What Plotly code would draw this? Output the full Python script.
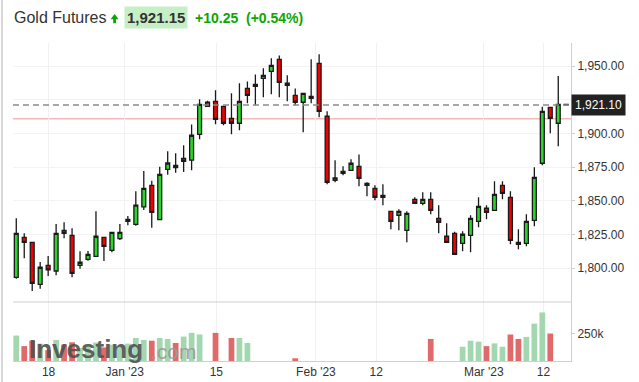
import plotly.graph_objects as go

# ---------------- data ----------------
idx = list(range(70))
opens = [1793.1, 1822.8, 1819.1, 1787.9, 1802.0, 1797.8, 1828.0, 1824.3, 1802.0, 1806.5,
         1808.7, 1822.8, 1813.2, 1821.8, 1834.7, 1832.5, 1845.5, 1861.4, 1835.9, 1873.3,
         1874.5, 1881.5, 1880.1, 1899.3, 1923.1, 1923.8, 1920.1, 1911.2, 1907.5, 1933.4,
         1934.9, 1940.9, 1946.1, 1955.0, 1937.2, 1928.2, 1923.1, 1926.0, 1952.0, 1912.7,
         1865.1, 1870.3, 1872.6, 1875.5, 1861.4, 1859.2, 1854.0, 1842.1, 1839.2, 1828.0,
         1851.0, 1848.1, 1851.0, 1836.9, 1823.6, 1825.8, 1818.4, 1824.3, 1834.7, 1844.4,
         1842.9, 1861.4, 1852.5, 1817.6, 1818.4, 1835.4, 1877.8, 1919.3, 1907.5, 1921.6]
highs = [1836.9, 1825.8, 1819.5, 1804.5, 1808.9, 1832.7, 1834.0, 1829.5, 1812.4, 1812.6,
         1842.1, 1822.8, 1826.8, 1832.7, 1838.6, 1857.0, 1872.0, 1864.8, 1875.2, 1886.7,
         1885.2, 1891.1, 1906.6, 1925.3, 1924.2, 1932.0, 1920.1, 1929.7, 1937.2, 1938.6,
         1943.8, 1948.3, 1955.7, 1957.9, 1943.1, 1933.4, 1929.7, 1955.0, 1958.7, 1916.4,
         1880.0, 1875.5, 1880.7, 1884.4, 1863.7, 1861.4, 1862.2, 1842.1, 1843.6, 1842.1,
         1852.5, 1856.2, 1856.2, 1846.6, 1833.2, 1827.0, 1827.3, 1839.2, 1852.5, 1846.6,
         1864.4, 1864.4, 1857.0, 1828.8, 1839.9, 1874.8, 1919.8, 1919.3, 1942.6, 1921.8]
lows = [1792.1, 1807.2, 1783.0, 1784.7, 1794.1, 1794.6, 1822.1, 1793.1, 1799.5, 1805.5,
        1808.5, 1805.2, 1811.7, 1820.8, 1831.7, 1831.4, 1843.1, 1830.0, 1835.5, 1869.3,
        1870.8, 1871.3, 1872.6, 1895.6, 1920.0, 1906.7, 1906.0, 1899.3, 1902.3, 1922.3,
        1920.8, 1926.8, 1929.0, 1926.8, 1923.8, 1920.8, 1900.8, 1922.3, 1911.9, 1862.2,
        1863.7, 1868.9, 1872.6, 1860.7, 1853.3, 1850.3, 1846.6, 1828.8, 1828.0, 1819.1,
        1848.1, 1846.6, 1839.9, 1825.8, 1819.1, 1810.2, 1812.4, 1811.7, 1830.3, 1836.2,
        1842.9, 1851.0, 1817.6, 1813.9, 1816.1, 1831.0, 1876.3, 1900.0, 1890.4, 1921.0]
closes = [1825.8, 1819.1, 1788.7, 1800.6, 1798.6, 1825.8, 1825.8, 1796.1, 1804.3, 1810.2,
          1823.6, 1816.1, 1826.5, 1826.5, 1836.2, 1846.8, 1859.2, 1841.4, 1869.6, 1878.0,
          1876.3, 1879.2, 1898.6, 1921.6, 1920.1, 1910.4, 1907.5, 1907.5, 1923.8, 1928.2,
          1936.4, 1943.1, 1950.5, 1937.9, 1935.7, 1923.1, 1929.7, 1927.5, 1916.4, 1863.7,
          1866.9, 1871.8, 1877.8, 1866.6, 1862.9, 1852.5, 1852.5, 1834.7, 1842.1, 1840.6,
          1848.1, 1851.0, 1842.9, 1834.0, 1819.1, 1810.2, 1825.1, 1836.9, 1845.8, 1841.4,
          1854.7, 1855.5, 1820.6, 1819.1, 1834.7, 1867.4, 1916.4, 1911.2, 1921.6, 1921.1]
# volume in thousands (0 = no bar shown)
volumes_k = [234, 137, 187, 160, 100, 194, 150, 172, 120, 140,
             170, 125, 150, 130, 160, 212, 194, 187, 212, 203,
             166, 225, 259, 244, 0, 259, 0, 212, 212, 166,
             0, 0, 0, 0, 0, 25, 0, 0, 0, 0,
             0, 0, 0, 0, 0, 0, 0, 0, 0, 0,
             0, 0, 203, 0, 0, 0, 131, 187, 178, 137,
             162, 131, 244, 203, 222, 344, 447, 253, 0, 0]
vol_up = [True, False, False, True, False, True, False, False, True, True,
          True, False, True, True, True, True, True, False, True, True,
          False, True, True, True, False, False, False, False, True, True,
          True, True, True, False, False, False, True, False, False, False,
          True, True, True, False, False, False, False, False, True, False,
          True, True, False, False, False, False, True, True, True, False,
          True, True, False, False, True, True, True, False, True, False]

tick_pos = [4.05, 13.6, 25.1, 37.6, 45.15, 58.65, 66.15]
tick_text = ["18", "Jan '23", "15", "Feb '23", "12", "Mar '23", "12"]
price_ticks = [1800, 1825, 1850, 1875, 1900, 1925, 1950]
price_tick_text = ["1,800.00", "1,825.00", "1,850.00", "1,875.00", "1,900.00", "", "1,950.00"]
last_price = 1921.10
prev_close = 1910.90
header_name = "Gold Futures"
header_price = "1,921.15"
header_change = "+10.25  (+0.54%)"

# ---------------- layout geometry ----------------
W, H = 639, 382
L, R, T, B = 13, 68, 43, 21
PW, PH = W - L - R, H - T - B
vol_frac = 59 / PH

def px(xp):
    return (xp - L) / PW

def py(yp):
    return (H - B - yp) / PH

FONT = "Liberation Sans, Arial, sans-serif"

fig = go.Figure()

vol_vals = [v * 1000 if v > 0 else None for v in volumes_k]
vol_cols = ["#a2d7b0" if u else "#e06a6a" for u in vol_up]
fig.add_trace(go.Bar(x=idx, y=vol_vals, marker_color=vol_cols, marker_line_width=0,
                     width=0.72, yaxis="y2", showlegend=False, hoverinfo="skip"))

fig.add_trace(go.Candlestick(
    x=idx, open=opens, high=highs, low=lows, close=closes,
    increasing=dict(line=dict(color="#1a1a1a", width=1.3), fillcolor="#2ad62a"),
    decreasing=dict(line=dict(color="#1a1a1a", width=1.3), fillcolor="#f20000"),
    whiskerwidth=0, showlegend=False, yaxis="y"))

# reference lines
fig.add_shape(type="line", xref="paper", x0=0, x1=1, yref="y", y0=prev_close, y1=prev_close,
              line=dict(color="#f6b8b8", width=1.5), layer="below")
fig.add_shape(type="line", xref="paper", x0=0, x1=1, yref="y", y0=last_price, y1=last_price,
              line=dict(color="#8a8a8a", width=1.5, dash="6px,4px"), layer="above")
# separator between panels
fig.add_shape(type="line", xref="paper", x0=0, x1=1, yref="paper", y0=vol_frac, y1=vol_frac,
              line=dict(color="#cfcfcf", width=1))
# container left border
fig.add_shape(type="line", xref="paper", x0=px(2), x1=px(2), yref="paper", y0=py(0), y1=py(H),
              line=dict(color="#cccccc", width=1.5))

# up-arrow icon in header (decoration)
arrow_pts = [(114.6, 14.0), (118.6, 19.3), (116.0, 19.3), (116.0, 23.3),
             (113.2, 23.3), (113.2, 19.3), (110.6, 19.3)]
arrow_path = "M " + " L ".join(f"{px(a):.5f},{py(b):.5f}" for a, b in arrow_pts) + " Z"
fig.add_shape(type="path", xref="paper", yref="paper", path=arrow_path,
              fillcolor="#0ea600", line=dict(width=0))

annotations = [
    dict(text=header_name, x=px(12), y=py(18), xref="paper", yref="paper", xanchor="left",
         yanchor="middle", showarrow=False, font=dict(family=FONT, size=16, color="#333333")),
    dict(text="<b>" + header_price + "</b>", x=px(124), y=py(18), xref="paper", yref="paper",
         xanchor="left", yanchor="middle", showarrow=False, bgcolor="#c6efc6", borderpad=2,
         font=dict(family=FONT, size=15, color="#333333")),
    dict(text="<b>" + header_change + "</b>", x=px(193), y=py(18), xref="paper", yref="paper",
         xanchor="left", yanchor="middle", showarrow=False,
         font=dict(family=FONT, size=14, color="#0ea600")),
    dict(text=f"{last_price:,.2f}", x=1, y=last_price, xref="paper", yref="y", xanchor="left",
         yanchor="middle", showarrow=False, bgcolor="#222222", borderpad=3,
         font=dict(family=FONT, size=12, color="#ffffff")),
    dict(text="<b>Investing</b>", x=px(27), y=py(349), xref="paper", yref="paper", xanchor="left",
         yanchor="middle", showarrow=False, opacity=0.9,
         font=dict(family=FONT, size=26, color="#505050")),
    dict(text=".com", x=px(149), y=py(351), xref="paper", yref="paper", xanchor="left",
         yanchor="middle", showarrow=False, opacity=0.9,
         font=dict(family=FONT, size=21, color="#9a9a9a")),
]

fig.update_layout(
    width=W, height=H, margin=dict(l=L, r=R, t=T, b=B, autoexpand=False),
    paper_bgcolor="white", plot_bgcolor="white",
    showlegend=False, annotations=annotations,
    font=dict(family=FONT, size=12, color="#333333"),
    xaxis=dict(range=[-0.41, 69.6], anchor="y2", tickvals=tick_pos, ticktext=tick_text,
               showgrid=True, gridcolor="#f1f1f1", gridwidth=1, zeroline=False,
               showline=True, linecolor="#cfcfcf", ticks="", rangeslider=dict(visible=False),
               tickfont=dict(size=12, color="#333333"), fixedrange=True, automargin=False),
    yaxis=dict(domain=[vol_frac, 1], range=[1774.8, 1967.1], side="right",
               tickvals=price_ticks, ticktext=price_tick_text, showgrid=True, gridcolor="#f3f3f3",
               zeroline=False, showline=True, linecolor="#d0d0d0", ticks="outside",
               ticklen=3, tickcolor="#d0d0d0", tickfont=dict(size=12, color="#333333"),
               automargin=False),
    yaxis2=dict(domain=[0, vol_frac], range=[0, 543000], side="right", tickvals=[250000],
                ticktext=["250k"], showgrid=False, zeroline=False, showline=True,
                linecolor="#d0d0d0", ticks="outside", ticklen=3, tickcolor="#d0d0d0",
                tickfont=dict(size=12, color="#333333"), automargin=False),
    bargap=0.3,
)

fig.write_html("out.html")
